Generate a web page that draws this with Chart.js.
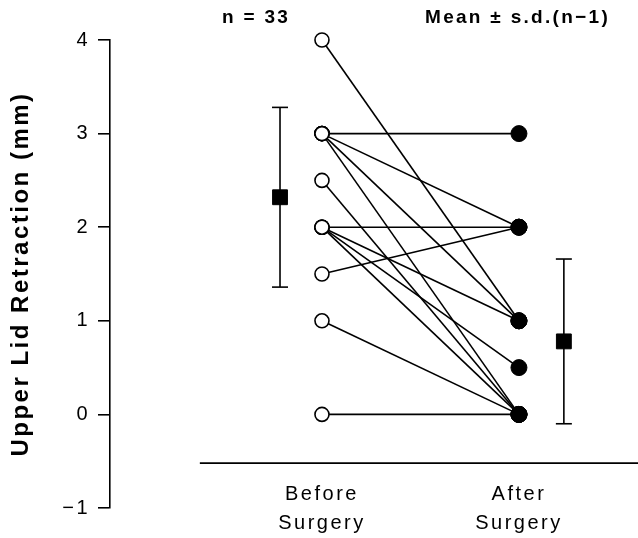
<!DOCTYPE html>
<html>
<head>
<meta charset="utf-8">
<script src="https://cdn.jsdelivr.net/npm/chart.js@4.4.1/dist/chart.umd.min.js"></script>
<style>
  html, body { margin: 0; padding: 0; background: #fff; }
  #wrap { width: 638px; height: 538px; }
</style>
</head>
<body>
<div id="wrap"><canvas id="myChart" width="638" height="538"></canvas></div>
<script>
// paired values, one entry per line (before -> after)
const beforeVals = [4, 3, 3, 3, 3, 2.5, 2, 2, 2, 2, 1.5, 1, 0];
const afterVals  = [1, 3, 2, 1, 0, 0,   2, 1, 0.5, 0, 2, 0, 0];
const groupLabels = [['Before', 'Surgery'], ['After', 'Surgery']];
const meanVals = [2.32, 0.78];
const sdVals = [0.96, 0.88];
const yTicks = [-1, 0, 1, 2, 3, 4];
const noteLeft = 'n = 33';
const noteRight = 'Mean \u00b1 s.d.(n\u22121)';
const yTitle = 'Upper Lid Retraction (mm)';

const FONT = '"Liberation Sans", Arial, sans-serif';
const groupX = [1, 2];
const meanX = [0.787, 2.228];
const baseY = -0.52;

const datasets = [];

// open / filled markers
datasets.push({
    data: beforeVals.map(v => ({x: groupX[0], y: v})),
    pointRadius: 7, pointBackgroundColor: '#fff', pointBorderColor: '#000',
    pointBorderWidth: 1.6, showLine: false, order: 0
});
datasets.push({
    data: afterVals.map(v => ({x: groupX[1], y: v})),
    pointRadius: 8, pointBackgroundColor: '#000', pointBorderColor: '#000',
    pointBorderWidth: 1, showLine: false, order: 0
});

// mean squares
datasets.push({
    data: meanVals.map((m, i) => ({x: meanX[i], y: m})),
    pointStyle: 'rect', pointRadius: 10.5, pointBackgroundColor: '#000',
    pointBorderColor: '#000', showLine: false, order: 0
});

// error bars
meanVals.forEach((m, i) => {
    datasets.push({
        data: [{x: meanX[i], y: m - sdVals[i]}, {x: meanX[i], y: m + sdVals[i]}],
        showLine: true, borderColor: '#000', borderWidth: 1.6,
        pointStyle: 'line', pointRadius: 8, pointBorderWidth: 1.6,
        pointBorderColor: '#000', order: 1
    });
});

// connecting lines
beforeVals.forEach((b, i) => {
    datasets.push({
        data: [{x: groupX[0], y: b}, {x: groupX[1], y: afterVals[i]}],
        showLine: true, borderColor: '#000', borderWidth: 1.6,
        pointRadius: 0, order: 2
    });
});

// baseline under the groups
datasets.push({
    data: [{x: 0.38, y: baseY}, {x: 2.62, y: baseY}],
    showLine: true, borderColor: '#000', borderWidth: 1.8,
    pointRadius: 0, order: 2
});

datasets.forEach(d => { d.clip = false; });

const textPlugin = {
    id: 'textPlugin',
    beforeDraw(chart){
        chart.ctx.letterSpacing = '2.5px';
    },
    afterDraw(chart){
        const ctx = chart.ctx;
        ctx.save();
        ctx.letterSpacing = '2.3px';
        ctx.fillStyle = '#000';
        ctx.font = 'bold 19px ' + FONT;
        ctx.textBaseline = 'middle';
        ctx.textAlign = 'left';
        ctx.fillText(noteLeft, 222, 18);
        ctx.fillText(noteRight, 425, 18);
        ctx.restore();
    }
};

new Chart(document.getElementById('myChart'), {
    type: 'scatter',
    data: { datasets: datasets },
    options: {
        responsive: false,
        animation: false,
        events: [],
        layout: { padding: { top: 40, bottom: 30, left: 0, right: 0 } },
        plugins: { legend: { display: false }, tooltip: { enabled: false } },
        scales: {
            x: {
                type: 'linear',
                min: -0.0761,
                max: 2.546,
                position: { y: baseY },
                border: { display: false },
                grid: { display: false, drawTicks: false },
                afterBuildTicks: scale => { scale.ticks = groupX.map(v => ({value: v})); },
                ticks: {
                    color: '#000',
                    padding: 17,
                    font: { family: FONT, size: 20, lineHeight: 1.45 },
                    callback: (v) => groupLabels[groupX.indexOf(v)]
                }
            },
            y: {
                type: 'linear',
                min: -1,
                max: 4,
                afterBuildTicks: scale => { scale.ticks = yTicks.map(v => ({value: v})); },
                afterFit: scale => { scale.width = 110; },
                border: { display: true, color: '#000', width: 1.6 },
                grid: { drawOnChartArea: false, drawTicks: true, tickLength: 12, color: '#000', lineWidth: 1.6 },
                ticks: {
                    color: '#000',
                    padding: 8,
                    font: { family: FONT, size: 20 },
                    callback: v => v < 0 ? '\u2212' + Math.abs(v) : String(v)
                },
                title: {
                    display: true,
                    text: yTitle,
                    color: '#000',
                    padding: { top: 7, bottom: 0 },
                    font: { family: FONT, size: 24, weight: 'bold' }
                }
            }
        }
    },
    plugins: [textPlugin]
});
</script>
</body>
</html>
